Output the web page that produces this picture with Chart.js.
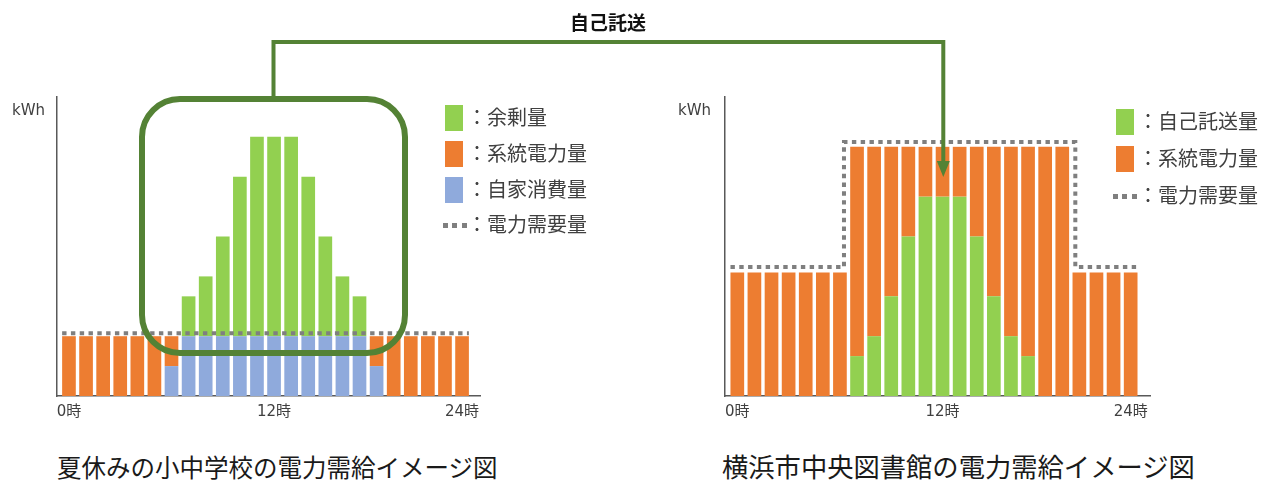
<!DOCTYPE html>
<html lang="ja">
<head>
<meta charset="utf-8">
<script src="https://cdn.jsdelivr.net/npm/chart.js@4.4.1/dist/chart.umd.min.js"></script>
<style>
  html, body { margin:0; padding:0; background:#fff; }
  body { width:1263px; height:481px; position:relative; overflow:hidden; font-family:'Noto Sans CJK JP', sans-serif; }
  canvas { position:absolute; top:0; }
  .abs { position:absolute; white-space:nowrap; }
  .unit { font-family:'DejaVu Sans', sans-serif; font-size:15px; color:#404040; top:101px; }
  .leg { font-size:20px; color:#404040; line-height:26px; }
  .sw { position:absolute; width:18px; height:26px; }
  .dots { position:absolute; width:25px; height:5px;
          background:repeating-linear-gradient(to right,#7f7f7f 0 5px,transparent 5px 9.5px); }
  .title { font-size:24.5px; color:#1a1a1a; top:450px; line-height:34px; }
</style>
</head>
<body>
<canvas id="c1" width="500" height="440" style="left:0px"></canvas>
<canvas id="c2" width="540" height="440" style="left:640px"></canvas>

<div class="abs unit" style="left:12px">kWh</div>
<div class="abs unit" style="left:678px">kWh</div>

<!-- left legend -->
<div class="sw" style="left:445px;top:105px;background:#92d050"></div>
<div class="abs leg" style="left:467px;top:104px">：余剰量</div>
<div class="sw" style="left:445px;top:141px;background:#ed7d31"></div>
<div class="abs leg" style="left:467px;top:140px">：系統電力量</div>
<div class="sw" style="left:445px;top:177px;background:#8faadc"></div>
<div class="abs leg" style="left:467px;top:176px">：自家消費量</div>
<div class="dots" style="left:443px;top:223px"></div>
<div class="abs leg" style="left:467px;top:211px">：電力需要量</div>

<!-- right legend -->
<div class="sw" style="left:1116px;top:109px;background:#92d050"></div>
<div class="abs leg" style="left:1138px;top:108px">：自己託送量</div>
<div class="sw" style="left:1116px;top:146px;background:#ed7d31"></div>
<div class="abs leg" style="left:1138px;top:145px">：系統電力量</div>
<div class="dots" style="left:1113px;top:194px"></div>
<div class="abs leg" style="left:1138px;top:182px">：電力需要量</div>

<div class="abs" style="left:570px;top:8px;font-size:19px;font-weight:bold;color:#111;line-height:28px">自己託送</div>

<div class="abs title" style="left:57px">夏休みの小中学校の電力需給イメージ図</div>
<div class="abs title" style="left:722px;font-size:26.3px;top:449px">横浜市中央図書館の電力需給イメージ図</div>

<svg width="1263" height="481" style="position:absolute;left:0;top:0;pointer-events:none">
  <rect x="142" y="99" width="263" height="254" rx="38" ry="38" fill="none" stroke="#548235" stroke-width="6"/>
  <path d="M273.5 96 V42 H943.3 V164" fill="none" stroke="#548235" stroke-width="4" stroke-linejoin="miter"/>
  <polygon points="936.8,161 949.8,161 943.3,177" fill="#548235"/>
</svg>

<script>
// ---- data ----
const hours = [0,1,2,3,4,5,6,7,8,9,10,11,12,13,14,15,16,17,18,19,20,21,22,23];
const xTickIndex = [0, 12, 23];
const xTickLabels = ['0時', '12時', '24時'];

// 夏休みの小中学校
const schoolSelf    = [0,0,0,0,0,0,1.5,3,3,3,3,3,3,3,3,3,3,3,1.5,0,0,0,0,0];        // 自家消費量
const schoolGrid    = [3,3,3,3,3,3,1.5,0,0,0,0,0,0,0,0,0,0,0,1.5,3,3,3,3,3];        // 系統電力量
const schoolSurplus = [0,0,0,0,0,0,0,2,3,5,8,10,10,10,8,5,3,2,0,0,0,0,0,0];         // 余剰量
const schoolDemand  = [3.15,3.15,3.15,3.15,3.15,3.15,3.15,3.15,3.15,3.15,3.15,3.15,
                       3.15,3.15,3.15,3.15,3.15,3.15,3.15,3.15,3.15,3.15,3.15,3.15]; // 電力需要量

// 横浜市中央図書館
const libSelfSupply = [0,0,0,0,0,0,0,2,3,5,8,10,10,10,8,5,3,2,0,0,0,0,0,0];         // 自己託送量
const libGrid       = [6.2,6.2,6.2,6.2,6.2,6.2,6.2,10.5,9.5,7.5,4.5,2.5,2.5,2.5,4.5,7.5,9.5,10.5,12.5,12.5,6.2,6.2,6.2,6.2]; // 系統電力量
const libDemand     = [6.47,6.47,6.47,6.47,6.47,6.47,6.47,12.74,12.74,12.74,12.74,12.74,12.74,
                       12.74,12.74,12.74,12.74,12.74,12.74,12.74,6.47,6.47,6.47,6.47]; // 電力需要量

const C_GREEN = '#92d050', C_ORANGE = '#ed7d31', C_BLUE = '#8faadc';

const pts = arr => hours.map((h, i) => ({ x: h, y: arr[i] }));

const demandLine = {
  id: 'demandLine',
  afterDatasetsDraw(chart, args, opts) {
    const d = opts.values; if (!d) return;
    const xs = chart.scales.x, ys = chart.scales.y, ctx = chart.ctx;
    const bar = chart.getDatasetMeta(0).data[0];
    const half = bar.width / 2;
    const off = 4.5;
    ctx.save();
    ctx.strokeStyle = '#7f7f7f';
    ctx.lineWidth = 4;
    ctx.setLineDash([4.4, 4.4]);
    ctx.beginPath();
    ctx.moveTo(xs.getPixelForValue(hours[0]) - half, ys.getPixelForValue(d[0]));
    for (let i = 1; i < d.length; i++) {
      if (d[i] !== d[i - 1]) {
        const bx = (xs.getPixelForValue(hours[i - 1]) + xs.getPixelForValue(hours[i])) / 2 + (d[i] > d[i - 1] ? -off : off);
        ctx.lineTo(bx, ys.getPixelForValue(d[i - 1]));
        ctx.lineTo(bx, ys.getPixelForValue(d[i]));
      }
    }
    ctx.lineTo(xs.getPixelForValue(hours[hours.length - 1]) + half, ys.getPixelForValue(d[d.length - 1]));
    ctx.stroke();
    ctx.restore();
  }
};

function makeOptions(xmin, xmax, pad, demand) {
  return {
    responsive: false,
    animation: false,
    layout: { padding: pad },
    plugins: { legend: { display: false }, tooltip: { enabled: false }, demandLine: { values: demand } },
    datasets: { bar: { categoryPercentage: 1, barPercentage: 0.8, borderWidth: 0 } },
    scales: {
      x: {
        type: 'linear', min: xmin, max: xmax, stacked: true, offset: false, bounds: 'ticks',
        grid: { display: false, drawTicks: false, offset: false },
        border: { display: true, color: '#595959', width: 1.5 },
        afterBuildTicks: s => { s.ticks = xTickIndex.map(v => ({ value: v })); },
        afterFit: s => { s.height = 34; },
        ticks: {
          autoSkip: false, maxRotation: 0, padding: 7, color: '#404040',
          font: { family: "'DejaVu Sans', 'Noto Sans CJK JP', sans-serif", size: 15 },
          callback: v => { const k = xTickIndex.indexOf(v); return k >= 0 ? xTickLabels[k] : ''; }
        }
      },
      y: {
        min: 0, max: 15, stacked: true,
        grid: { display: false, drawTicks: false },
        border: { display: true, color: '#595959', width: 1.5 },
        ticks: { display: false },
        afterFit: s => { s.width = 0; }
      }
    }
  };
}

new Chart(document.getElementById('c1'), {
  type: 'bar',
  data: {
    datasets: [
      { label: '自家消費量', data: pts(schoolSelf), backgroundColor: C_BLUE },
      { label: '系統電力量', data: pts(schoolGrid), backgroundColor: C_ORANGE },
      { label: '余剰量', data: pts(schoolSurplus), backgroundColor: C_GREEN }
    ]
  },
  options: makeOptions(-0.7, 24.05, { left: 57, top: 97, right: 20, bottom: 10 }, schoolDemand),
  plugins: [demandLine]
});

new Chart(document.getElementById('c2'), {
  type: 'bar',
  data: {
    datasets: [
      { label: '自己託送量', data: pts(libSelfSupply), backgroundColor: C_GREEN },
      { label: '系統電力量', data: pts(libGrid), backgroundColor: C_ORANGE }
    ]
  },
  options: makeOptions(-0.72, 24.13, { left: 85, top: 97, right: 30, bottom: 10 }, libDemand),
  plugins: [demandLine]
});
</script>
</body>
</html>
